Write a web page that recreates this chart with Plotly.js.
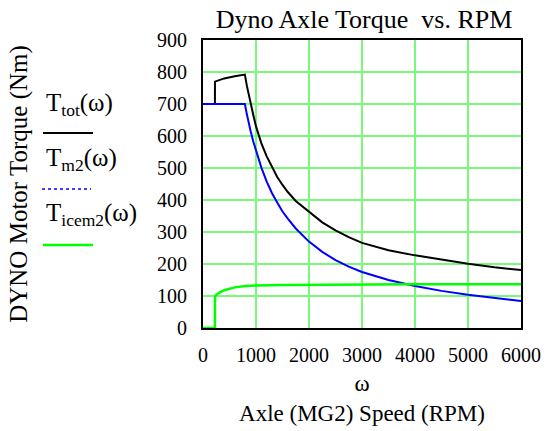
<!DOCTYPE html>
<html>
<head>
<meta charset="utf-8">
<script src="https://cdn.plot.ly/plotly-3.0.1.min.js"></script>
<style>html,body{margin:0;padding:0;background:#fff;}</style>
</head>
<body>
<div id="chart" style="width:555px;height:431px;"></div>
<script>
// Axle speed (RPM) and torque (Nm) values
const rpmTot = [0, 225, 226, 400, 600, 790, 830, 882, 950, 1000, 1100, 1200, 1300, 1400, 1500, 1600, 1750, 2000, 2250, 2500, 2750, 3000, 3500, 4000, 4500, 5000, 5500, 6000];
const Ttot   = [700, 700, 770, 780, 787, 792, 755, 712, 665, 630, 578, 537, 502, 472, 447, 425, 397, 362, 330, 305, 284, 266, 243, 227, 213, 201, 190, 181];

const rpmM2 = [0, 790, 825, 850, 900, 950, 1000, 1100, 1200, 1300, 1400, 1500, 1600, 1750, 2000, 2250, 2500, 2750, 3000, 3500, 4000, 4500, 5000, 5500, 6000];
const Tm2   = [700, 700, 670, 650, 614, 582, 553, 502, 458, 422, 392, 364, 342, 311, 270, 238, 212, 192, 175, 150, 131, 116, 104, 93, 84];

const rpmIcem = [0, 225, 226, 300, 400, 500, 600, 800, 1000, 1500, 2000, 3000, 4000, 5000, 6000];
const Ticem   = [0, 0, 100, 110, 118, 123, 127, 131, 133, 134, 135, 136, 137, 137, 137];

const xTicks = [0, 1000, 2000, 3000, 4000, 5000, 6000];
const yTicks = [0, 100, 200, 300, 400, 500, 600, 700, 800, 900];

const serif = "Liberation Serif, serif";
const gridCol = "rgb(120,250,120)";

const traces = [
  {x: rpmTot, y: Ttot, mode: "lines", line: {color: "#000000", width: 2}, name: "Ttot", hoverinfo: "skip", cliponaxis: false},
  {x: rpmM2, y: Tm2, mode: "lines", line: {color: "#0000ff", width: 2}, name: "Tm2", hoverinfo: "skip", cliponaxis: false},
  {x: rpmIcem, y: Ticem, mode: "lines", line: {color: "#00ff00", width: 2.5}, name: "Ticem2", hoverinfo: "skip", cliponaxis: false}
];

const L = 203, R = 34, T = 40, B = 103, W = 555, H = 431;
const pw = W - L - R, ph = H - T - B;
const px = v => (v - L) / pw;
const py = v => (H - B - v) / ph;

const layout = {
  width: W, height: H,
  margin: {l: L, r: R, t: T, b: B, pad: 0},
  paper_bgcolor: "#ffffff", plot_bgcolor: "#ffffff",
  showlegend: false,
  font: {family: serif, size: 20, color: "#000000"},
  title: {text: "Dyno Axle Torque  vs. RPM", font: {family: serif, size: 26, color: "#000"}, x: px(364), xref: "paper", xanchor: "center", y: 1 - 19 / H, yanchor: "middle"},
  xaxis: {
    range: [0, 6000], tickmode: "array", tickvals: xTicks, tickformat: "d",
    showgrid: true, gridcolor: gridCol, gridwidth: 1.5, layer: "below traces",
    zeroline: false, showline: true, linecolor: "#000", linewidth: 2, mirror: true,
    ticks: "", ticklabelstandoff: 8,
    tickfont: {family: serif, size: 20, color: "#000"},
    title: {text: "ω<br>Axle (MG2) Speed (RPM)", font: {family: serif, size: 23}, standoff: 10}
  },
  yaxis: {
    range: [0, 900], tickmode: "array", tickvals: yTicks, tickformat: "d",
    showgrid: true, gridcolor: gridCol, gridwidth: 1.5, layer: "below traces",
    zeroline: false, showline: true, linecolor: "#000", linewidth: 2, mirror: true,
    ticks: "", ticklabelstandoff: 10,
    tickfont: {family: serif, size: 20, color: "#000"},
    title: {text: "DYNO Motor Torque (Nm)", font: {family: serif, size: 25}, standoff: 122}
  },
  annotations: [
    {text: "T<sub>tot</sub>(ω)", xref: "paper", yref: "paper", x: px(44), y: py(104), xanchor: "left", yanchor: "middle", showarrow: false, font: {family: serif, size: 25}},
    {text: "T<sub>m2</sub>(ω)", xref: "paper", yref: "paper", x: px(44), y: py(159), xanchor: "left", yanchor: "middle", showarrow: false, font: {family: serif, size: 25}},
    {text: "T<sub>icem2</sub>(ω)", xref: "paper", yref: "paper", x: px(44), y: py(214), xanchor: "left", yanchor: "middle", showarrow: false, font: {family: serif, size: 25}}
  ],
  shapes: [
    {type: "line", xref: "paper", yref: "paper", x0: px(43), x1: px(93), y0: py(133), y1: py(133), line: {color: "#000", width: 2}},
    {type: "line", xref: "paper", yref: "paper", x0: px(42), x1: px(91), y0: py(189), y1: py(189), line: {color: "#0000ff", width: 1.5, dash: "dot"}},
    {type: "line", xref: "paper", yref: "paper", x0: px(43), x1: px(93), y0: py(245), y1: py(245), line: {color: "#00ff00", width: 2.5}}
  ]
};

Plotly.newPlot("chart", traces, layout, {staticPlot: true, displayModeBar: false});
</script>
</body>
</html>
